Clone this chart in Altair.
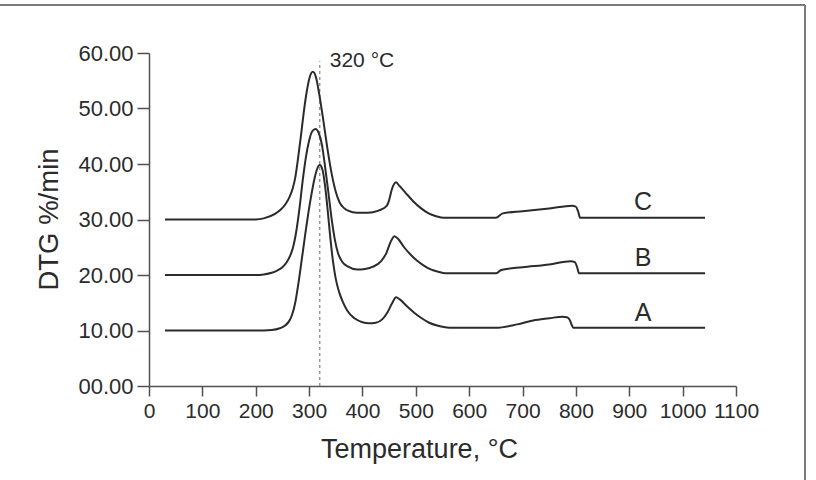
import altair as alt
import pandas as pd

# ---- data ----
a_x = [30, 200, 230, 245, 255, 262, 268, 274, 280, 287, 293, 298, 304, 310, 315, 320, 325, 330, 335,
       340, 345, 350, 356, 363, 372, 385, 400, 412, 425, 437, 447, 455, 463, 470, 483, 497, 511, 525,
       540, 555, 570, 600, 650, 690, 720, 750, 775, 783, 788, 791, 795, 820, 900, 1042]
a_y = [10.0, 10.0, 10.1, 10.4, 10.9, 11.6, 12.8, 15.0, 18.5, 23.3, 27.5, 30.8, 34.3, 37.3, 39.1, 39.8,
       39.0, 36.0, 31.5, 26.5, 22.3, 19.3, 17.0, 15.2, 13.5, 12.2, 11.5, 11.3, 11.4, 12.0, 13.3, 14.8,
       16.0, 15.6, 14.4, 13.2, 12.2, 11.4, 10.9, 10.6, 10.5, 10.5, 10.5, 11.1, 11.8, 12.2, 12.5, 12.4,
       12.0, 11.3, 10.5, 10.5, 10.5, 10.5]

b_x = [30, 200, 215, 230, 240, 250, 258, 265, 270, 275, 282, 288, 294, 300, 306, 312, 318, 324, 330,
       336, 342, 348, 354, 362, 373, 390, 405, 420, 435, 445, 452, 460, 467, 478, 490, 502, 515, 528,
       542, 555, 650, 660, 700, 750, 790, 798, 802, 806, 850, 1042]
b_y = [20.0, 20.0, 20.1, 20.4, 20.8, 21.4, 22.3, 23.6, 25.0, 27.3, 32.0, 37.0, 41.2, 44.2, 45.9, 46.3,
       45.6, 43.5, 39.5, 35.0, 30.3, 26.5, 24.0, 22.4, 21.5, 21.0, 21.1, 21.5, 22.5, 24.0, 25.8, 27.0,
       26.5, 25.0, 23.7, 22.6, 21.7, 21.0, 20.6, 20.3, 20.3, 20.9, 21.4, 21.9, 22.5, 22.3, 21.5, 20.3,
       20.3, 20.3]

c_x = [30, 200, 215, 236, 248, 256, 263, 269, 274, 279, 285, 290, 295, 301, 307, 313, 319, 326, 334,
       342, 350, 357, 365, 373, 390, 410, 430, 445, 450, 455, 463, 468, 480, 495, 510, 524, 538, 552,
       650, 663, 700, 750, 793, 800, 804, 808, 850, 1042]
c_y = [30.0, 30.0, 30.2, 31.0, 31.9, 32.8, 34.0, 35.5, 37.5, 40.8, 45.3, 49.3, 52.7, 55.6, 56.6, 55.6,
       52.6, 48.3, 43.0, 38.4, 35.0, 33.1, 32.1, 31.6, 31.2, 31.2, 31.6, 32.4, 33.5, 35.4, 36.7, 36.2,
       34.9, 33.3, 32.0, 31.1, 30.6, 30.3, 30.3, 31.1, 31.5, 32.0, 32.5, 32.3, 31.5, 30.3, 30.3, 30.3]

series_names = ["A", "B", "C"]
label_x = [926, 926, 926]
label_y = [13.1, 23.0, 33.1]

peak_temp = [320]
peak_top = [58.5]
peak_text = ["320 °C"]

x_ticks = list(range(0, 1150, 50))
y_ticks = list(range(0, 65, 5))

FONT = "Liberation Sans"
INK = "#2b2b2b"
AXIS = "#505050"

rows = []
for name, xs, ys in zip(series_names, [a_x, b_x, c_x], [a_y, b_y, c_y]):
    for xv, yv in zip(xs, ys):
        rows.append({"series": name, "T": xv, "DTG": yv})
df = pd.DataFrame(rows)

labels_df = pd.DataFrame({"series": series_names, "T": label_x, "DTG": label_y})
peak_df = pd.DataFrame({"T": peak_temp, "top": peak_top, "bottom": [0], "text": peak_text})

x_scale = alt.Scale(domain=[0, 1100], nice=False, zero=False)
y_scale = alt.Scale(domain=[0, 60], nice=False)

x_axis = alt.Axis(
    values=x_ticks,
    format="d",
    labelExpr="datum.value % 100 === 0 ? datum.label : ''",
    labelOverlap=False, labelFlush=False,
    tickSize={"condition": {"test": "datum.value % 100 === 0", "value": 10}, "value": 6},
    labelFont=FONT, labelFontSize=21, labelColor=INK, labelPadding=4,
    title="Temperature, °C", titleFont=FONT, titleFontSize=27, titleFontWeight="normal",
    titleColor=INK, titleX=270, titleY=71, titleBaseline="alphabetic", titleAlign="center",
    domainColor=AXIS, domainWidth=1.5, tickColor=AXIS, tickWidth=1.5, grid=False,
)
y_axis = alt.Axis(
    values=y_ticks,
    labelExpr="datum.value % 10 === 0 ? format(datum.value, '05.2f') : ''",
    labelOverlap=False, labelFlush=False,
    tickSize={"condition": {"test": "datum.value % 10 === 0", "value": 12}, "value": 8},
    labelFont=FONT, labelFontSize=22, labelColor=INK, labelPadding=4,
    title="DTG %/min", titleFont=FONT, titleFontSize=27.5, titleFontWeight="normal",
    titleColor=INK, titleX=-92, titleY=166, titleAngle=-90, titleBaseline="alphabetic",
    titleAlign="center",
    domainColor=AXIS, domainWidth=1.5, tickColor=AXIS, tickWidth=1.5, grid=False,
)

lines = alt.Chart(df).mark_line(color=INK, strokeWidth=2, interpolate="monotone").encode(
    x=alt.X("T:Q", scale=x_scale, axis=x_axis),
    y=alt.Y("DTG:Q", scale=y_scale, axis=y_axis),
    detail="series:N",
)

dash = alt.Chart(peak_df).mark_rule(color="#8a8a8a", strokeWidth=1.3, strokeDash=[3, 3]).encode(
    x="T:Q", y="bottom:Q", y2="top:Q"
)

peak_label = alt.Chart(peak_df).mark_text(
    font=FONT, fontSize=21, color=INK, align="left", baseline="middle", dx=10
).encode(x="T:Q", y=alt.Y("top:Q"), text="text:N")

series_labels = alt.Chart(labels_df).mark_text(
    font=FONT, fontSize=25, color=INK, align="center", baseline="middle"
).encode(x="T:Q", y="DTG:Q", text="series:N")

frame_top = alt.Chart(peak_df).mark_rule(color="#7a7a7a", strokeWidth=2).encode(
    x=alt.value(-149), x2=alt.value(656), y=alt.value(-48)
)
frame_right = alt.Chart(peak_df).mark_rule(color="#7a7a7a", strokeWidth=2).encode(
    x=alt.value(656), y=alt.value(-48), y2=alt.value(430)
)

chart = alt.layer(dash, lines, peak_label, series_labels, frame_top, frame_right).properties(
    width=587, height=333,
    autosize=alt.AutoSizeParams(type="none"),
    padding={"left": 149, "top": 53, "right": 80, "bottom": 94},
    background="white",
).configure_view(stroke=None)

chart.save("out.html", embed_options={"renderer": "svg", "actions": False})
